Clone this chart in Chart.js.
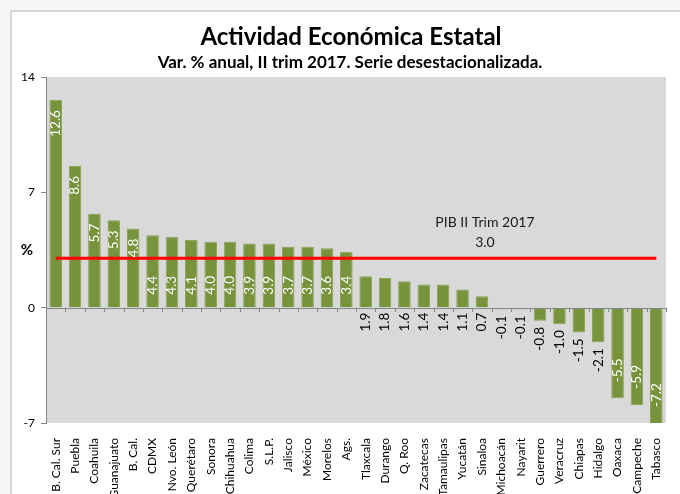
<!DOCTYPE html>
<html><head><meta charset="utf-8">
<script src="https://cdn.jsdelivr.net/npm/chart.js@4.4.0/dist/chart.umd.min.js"></script>
<style>html,body{margin:0;padding:0;background:#f6f6f6;overflow:hidden;}#wrap{width:680px;height:494px;}</style>
</head><body><div id="wrap"><canvas id="c" width="680" height="494"></canvas></div>
<script>
const categories = ["B. Cal. Sur","Puebla","Coahuila","Guanajuato","B. Cal.","CDMX","Nvo. León","Querétaro","Sonora","Chihuahua","Colima","S.L.P.","Jalisco","México","Morelos","Ags.","Tlaxcala","Durango","Q. Roo","Zacatecas","Tamaulipas","Yucatán","Sinaloa","Michoacán","Nayarit","Guerrero","Veracruz","Chiapas","Hidalgo","Oaxaca","Campeche","Tabasco"];
const values = [12.6,8.6,5.7,5.3,4.8,4.4,4.3,4.1,4.0,4.0,3.9,3.9,3.7,3.7,3.6,3.4,1.9,1.8,1.6,1.4,1.4,1.1,0.7,-0.1,-0.1,-0.8,-1.0,-1.5,-2.1,-5.5,-5.9,-7.2];
const pibNacional = 3.0;
const pibSeries = categories.map(() => pibNacional);
const yTicks = [-7, 0, 7, 14];
const titleText = "Actividad Económica Estatal";
const subtitleText = "Var. % anual, II trim 2017. Serie desestacionalizada.";
const yAxisLabel = "%";
const pibLabel = ["PIB II Trim 2017", pibNacional.toFixed(1)];

const FONT = "Lato, 'Open Sans', sans-serif";

const deco = {
  id: 'deco',
  beforeDraw(chart) {
    const { ctx, chartArea: a } = chart;
    ctx.save();
    ctx.fillStyle = '#f6f6f6';
    ctx.fillRect(0, 0, chart.width, chart.height);
    ctx.fillStyle = '#ffffff';
    ctx.fillRect(11, 11, chart.width, chart.height);
    ctx.strokeStyle = '#d6d6d6';
    ctx.lineWidth = 2;
    ctx.strokeRect(11, 11, chart.width + 20, chart.height + 20);
    ctx.fillStyle = '#d9d9d9';
    ctx.fillRect(a.left, a.top, a.right - a.left, a.bottom - a.top);
    ctx.fillStyle = '#000';
    ctx.textAlign = 'center';
    ctx.textBaseline = 'middle';
    ctx.font = 'bold 24px ' + FONT;
    ctx.fillText(titleText, 351, 37);
    ctx.font = 'bold 17px ' + FONT;
    ctx.fillText(subtitleText, 350, 63);
    ctx.font = 'bold 15px ' + FONT;
    ctx.fillText(yAxisLabel, 27, (a.top + a.bottom) / 2);
    ctx.restore();
  },
  afterDatasetsDraw(chart) {
    const { ctx, chartArea: a, scales } = chart;
    const zeroY = scales.y.getPixelForValue(0);
    ctx.save();
    ctx.strokeStyle = '#868686';
    ctx.lineWidth = 1;
    ctx.beginPath();
    ctx.moveTo(a.left, Math.round(zeroY) + 0.5);
    ctx.lineTo(a.right + 1, Math.round(zeroY) + 0.5);
    const n = categories.length;
    for (let k = 0; k <= n; k++) {
      const x = Math.round(a.left + k * (a.right - a.left) / n) + 0.5;
      ctx.moveTo(x, Math.round(zeroY));
      ctx.lineTo(x, Math.round(zeroY) + 4);
    }
    ctx.stroke();

    const meta = chart.getDatasetMeta(1);
    ctx.font = '13.5px ' + FONT;
    ctx.textBaseline = 'middle';
    meta.data.forEach((bar, i) => {
      const v = values[i];
      const txt = v.toFixed(1);
      const end = Math.min(Math.max(bar.y, a.top), a.bottom);
      let y, align, color;
      if (v >= 4.5) { y = end + 10; align = 'right'; color = '#fff'; }
      else if (v >= 3) { y = zeroY - 13; align = 'left'; color = '#fff'; }
      else if (v >= 0) { y = zeroY + 5; align = 'right'; color = '#000'; }
      else if (v > -3) { y = end + 6; align = 'right'; color = '#000'; }
      else { y = end - 16; align = 'left'; color = '#fff'; }
      ctx.save();
      ctx.translate(bar.x, y);
      ctx.rotate(-Math.PI / 2);
      ctx.textAlign = align;
      ctx.fillStyle = color;
      ctx.fillText(txt, 0, 0);
      ctx.restore();
    });

    const px = scales.x.getPixelForValue(22) + 3;
    const py = scales.y.getPixelForValue(pibNacional);
    ctx.fillStyle = '#1a1a1a';
    ctx.textAlign = 'center';
    ctx.font = '14px ' + FONT;
    ctx.fillText(pibLabel[0], px, py - 36);
    ctx.fillText(pibLabel[1], px, py - 16);
    ctx.restore();
  }
};

new Chart(document.getElementById('c'), {
  data: {
    labels: categories,
    datasets: [
      {
        type: 'line',
        label: 'PIB',
        data: pibSeries,
        borderColor: '#ff0000',
        borderWidth: 3,
        pointRadius: 0,
        fill: false,
        order: 0
      },
      {
        type: 'bar',
        label: 'Var. %',
        data: values,
        backgroundColor: '#77933c',
        borderColor: '#8aa553',
        borderWidth: 1,
        categoryPercentage: 1,
        barPercentage: 0.65,
        clip: 0,
        order: 1
      }
    ]
  },
  options: {
    responsive: false,
    animation: false,
    devicePixelRatio: 1,
    layout: { padding: { top: 77, left: 0, right: 14, bottom: 0 } },
    plugins: { legend: { display: false }, tooltip: { enabled: false }, title: { display: false } },
    scales: {
      x: {
        type: 'category',
        offset: true,
        grid: { display: false },
        border: { display: false },
        ticks: {
          autoSkip: false, minRotation: 90, maxRotation: 90, padding: 7,
          color: '#000', font: { family: FONT, size: 12 }
        },
        afterFit(scale) { scale.height = 71; }
      },
      y: {
        min: -7, max: 14,
        afterBuildTicks(scale) { scale.ticks = yTicks.map(v => ({ value: v })); },
        grid: { drawOnChartArea: false, drawTicks: true, tickLength: 5, color: '#868686' },
        border: { display: true, color: '#868686' },
        ticks: { padding: 6, color: '#000', font: { family: FONT, size: 12 } },
        afterFit(scale) { scale.width = 46; }
      }
    }
  },
  plugins: [deco]
});
</script>
</body></html>
